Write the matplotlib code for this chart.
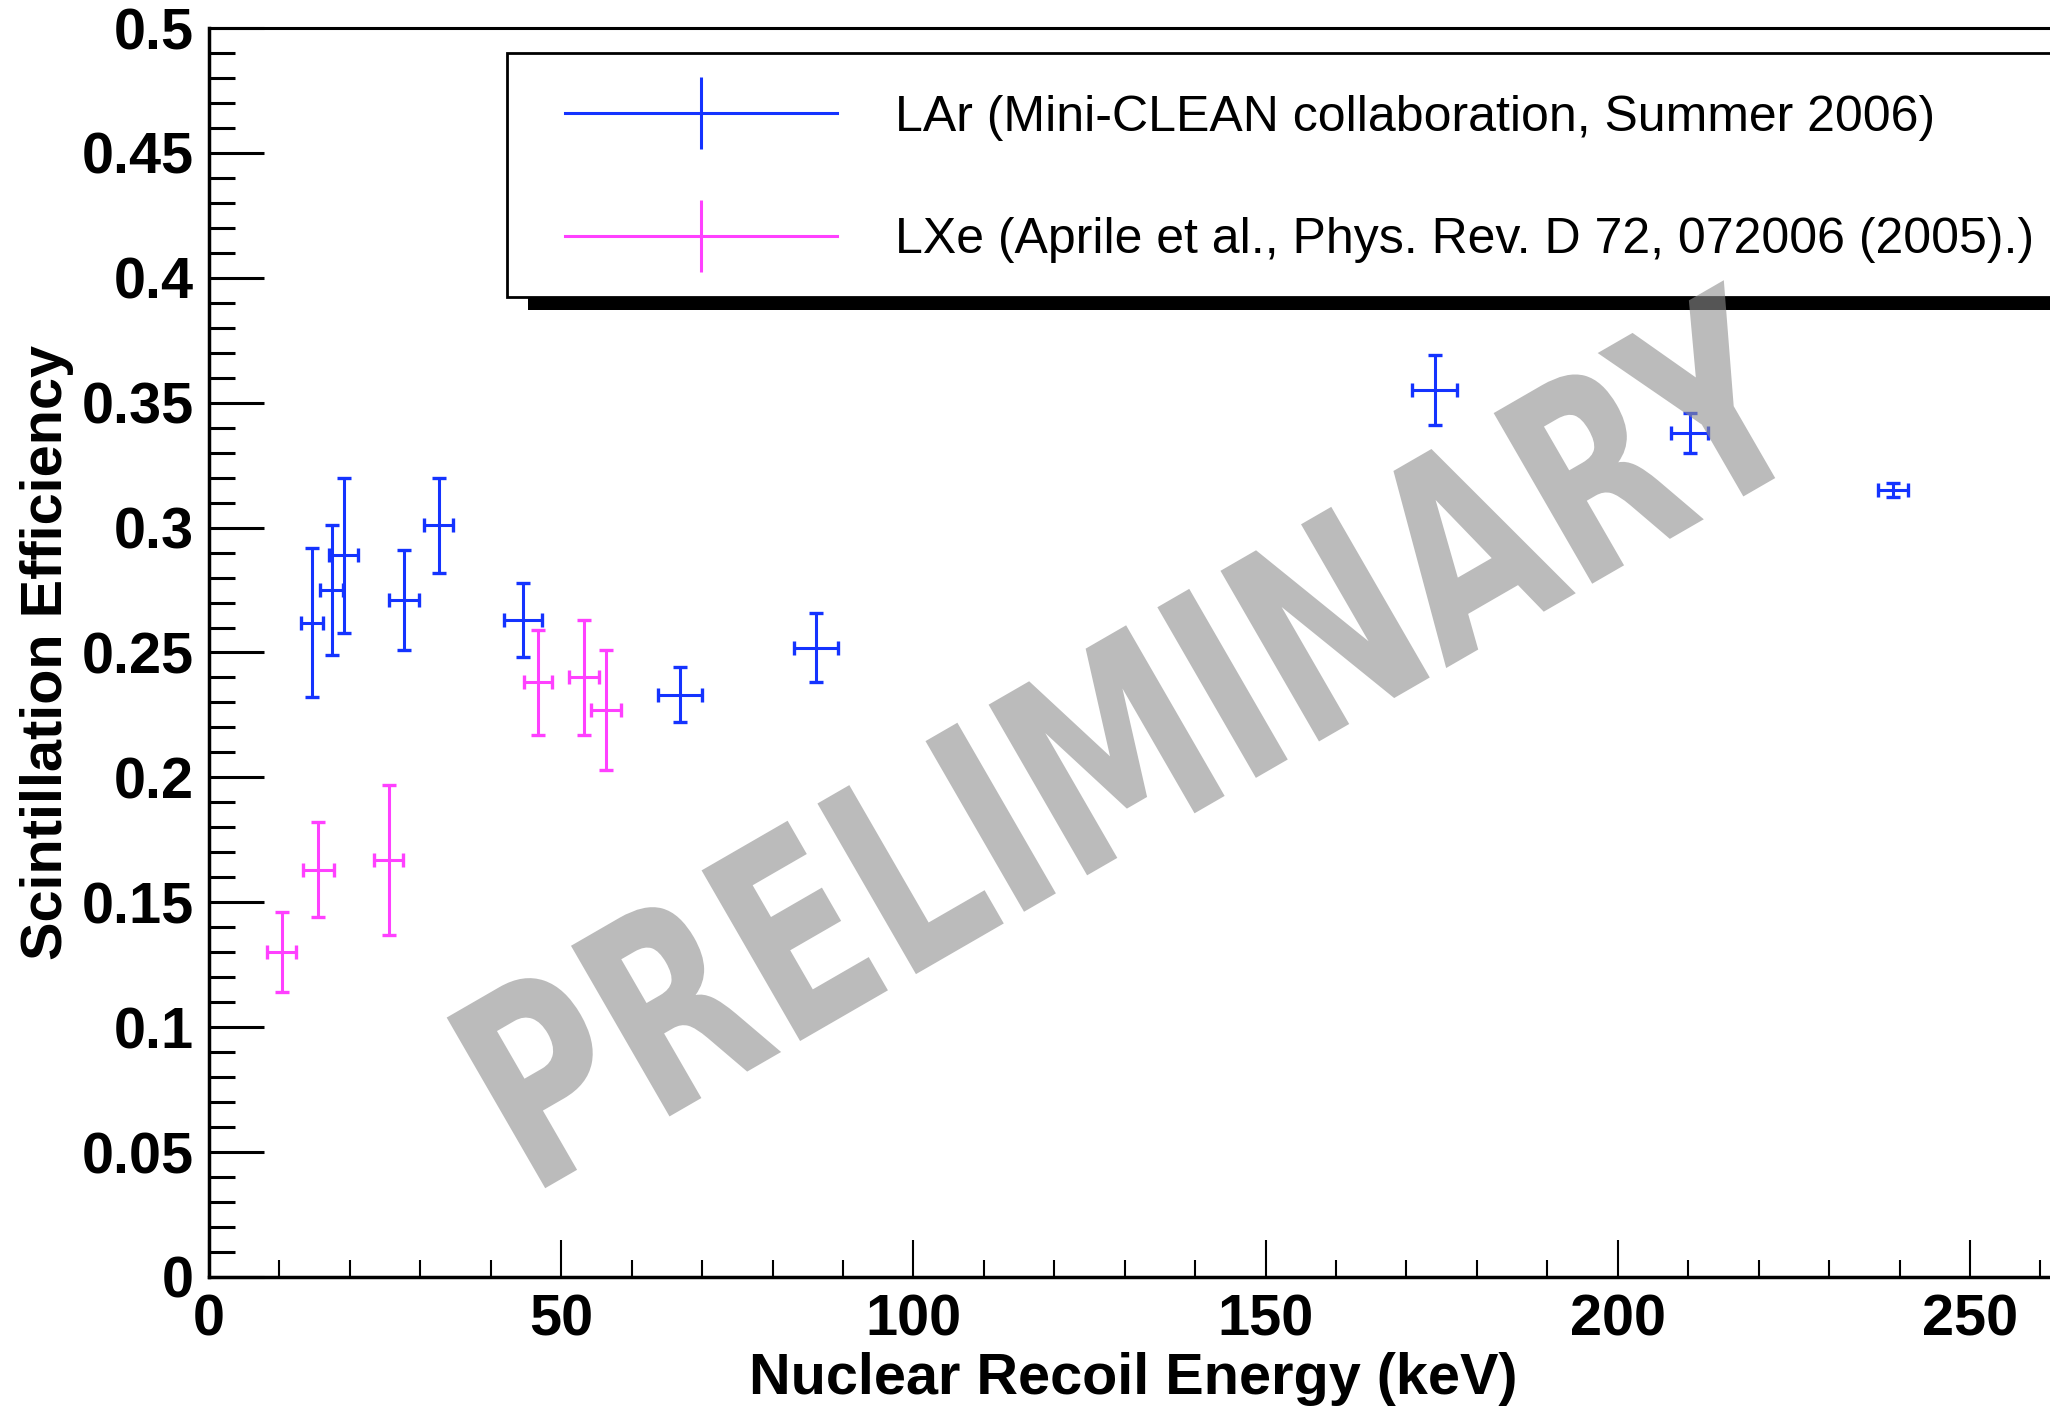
import matplotlib.pyplot as plt
from matplotlib.lines import Line2D
from matplotlib.patches import Rectangle
from matplotlib.patheffects import AbstractPathEffect
from matplotlib.transforms import Affine2D
from matplotlib.ticker import MultipleLocator, FuncFormatter

plt.rcParams['font.family'] = ['Liberation Sans', 'DejaVu Sans']
plt.rcParams['font.weight'] = 'bold'

# LAr, Mini-CLEAN
lar_energy = [14.6, 17.4, 19.1, 27.7, 32.6, 44.6, 66.9, 86.2, 174.0, 210.2, 239.1]
lar_energy_err = [1.6, 1.6, 2.0, 2.1, 2.1, 2.7, 3.15, 3.1, 3.15, 2.6, 2.1]
lar_eff = [0.262, 0.275, 0.289, 0.271, 0.301, 0.263, 0.233, 0.252, 0.355, 0.338, 0.315]
lar_eff_err = [0.030, 0.026, 0.031, 0.020, 0.019, 0.015, 0.011, 0.014, 0.014, 0.008, 0.0027]

# LXe, Aprile et al.
lxe_energy = [10.3, 15.5, 25.5, 46.7, 53.2, 56.4]
lxe_energy_err = [2.0, 2.2, 2.1, 2.0, 2.1, 2.1]
lxe_eff = [0.130, 0.163, 0.167, 0.238, 0.240, 0.227]
lxe_eff_err = [0.016, 0.019, 0.030, 0.021, 0.023, 0.024]

labels = ["LAr (Mini-CLEAN collaboration, Summer 2006)",
          "LXe (Aprile et al., Phys. Rev. D 72, 072006 (2005).)"]
colors = ["#1433ff", "#ff40ff"]


class Stretch(AbstractPathEffect):
    """make the glyphs taller (narrow-looking letters), about the text middle"""

    def __init__(self, sy):
        super().__init__()
        self.sy = sy

    def draw_path(self, renderer, gc, tpath, affine, rgbFace=None):
        ext = tpath.get_extents()
        cy = (ext.y0 + ext.y1) / 2
        pre = Affine2D().translate(0, -cy).scale(1, self.sy).translate(0, cy)
        renderer.draw_path(gc, tpath, pre + affine, rgbFace)


W, H = 2050, 1406
fig = plt.figure(figsize=(W / 100, H / 100), dpi=100)
ax = fig.add_axes([209 / W, 129 / H, 1849 / W, 1249 / H])

ax.errorbar(lar_energy, lar_eff, xerr=lar_energy_err, yerr=lar_eff_err, fmt='none',
            ecolor=colors[0], elinewidth=2.2, capsize=4.9, capthick=2.4)
ax.errorbar(lxe_energy, lxe_eff, xerr=lxe_energy_err, yerr=lxe_eff_err, fmt='none',
            ecolor=colors[1], elinewidth=2.2, capsize=4.9, capthick=2.4)

ax.set_xlim(0, 262.5)
ax.set_ylim(0, 0.5)
ax.xaxis.set_major_locator(MultipleLocator(50))
ax.xaxis.set_minor_locator(MultipleLocator(10))
ax.yaxis.set_major_locator(MultipleLocator(0.05))
ax.yaxis.set_minor_locator(MultipleLocator(0.01))
ax.yaxis.set_major_formatter(FuncFormatter(lambda v, p: '%g' % round(v, 3)))
ax.xaxis.set_major_formatter(FuncFormatter(lambda v, p: '%g' % v))

ax.tick_params(axis='y', which='major', direction='in', length=39.6, width=2.2, labelsize=41.5, pad=11)
ax.tick_params(axis='y', which='minor', direction='in', length=18.7, width=2.2)
ax.tick_params(axis='x', which='major', direction='in', length=26.6, width=1.5, labelsize=41.5, pad=12)
ax.tick_params(axis='x', which='minor', direction='in', length=12.2, width=1.5)
for s in ['left', 'bottom']:
    ax.spines[s].set_linewidth(2.5)
ax.spines['top'].set_linewidth(2.2)

ax.set_xlabel('Nuclear Recoil Energy (keV)', fontsize=41.5, fontweight='bold', va='center')
ax.xaxis.set_label_coords(0.5, -0.0817)
ax.set_ylabel('Scintillation Efficiency', fontsize=41.5, fontweight='bold', va='center')
ax.yaxis.set_label_coords(-0.0875, 0.5)

# legend box with ROOT style shadow
fig.add_artist(Rectangle((528 / W, 1 - 310 / H), 1.0, 244 / H, transform=fig.transFigure,
                         facecolor='black', edgecolor='none', zorder=2))
fig.add_artist(Rectangle((506.5 / W, 1 - 297 / H), 1.0, 244 / H, transform=fig.transFigure,
                         facecolor='white', edgecolor='black', lw=2, zorder=3))
handles = [Line2D([], [], color=c, lw=2.2, marker='|', markersize=52, markeredgewidth=2.2)
           for c in colors]
fig.legend(handles, labels, loc='center left', bbox_to_anchor=(565 / W, 1 - 179 / H),
           frameon=False, prop={'size': 36, 'weight': 'normal'}, handlelength=5.44,
           handletextpad=1.16, labelspacing=1.53, borderpad=0, borderaxespad=0)

# watermark
fig.text(1135 / W, 1 - 754 / H, 'PRELIMINARY', rotation=30, rotation_mode='anchor',
         ha='center', va='center', fontsize=141, family='DejaVu Sans', fontweight='bold',
         color='#8e8e8e', alpha=0.6, zorder=10, path_effects=[Stretch(1.38)])

fig.savefig('out.png', dpi=100)
